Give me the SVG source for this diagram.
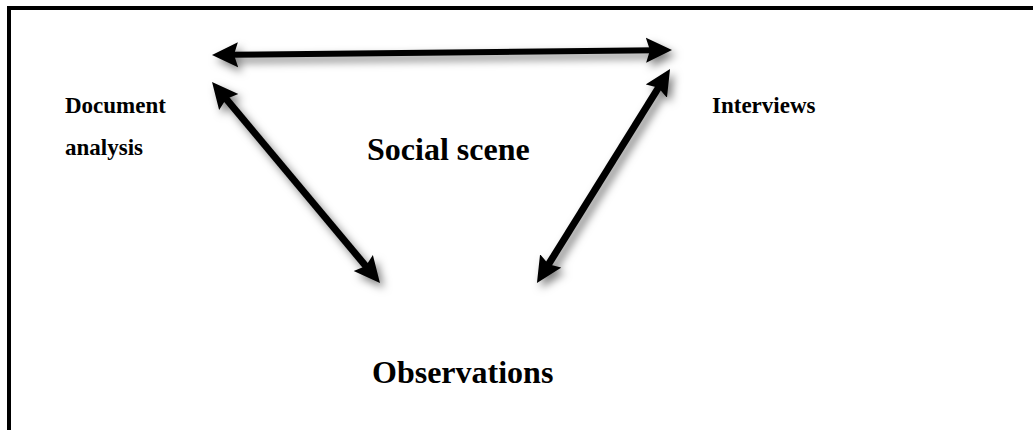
<svg xmlns="http://www.w3.org/2000/svg" width="1033" height="430" viewBox="0 0 1033 430">
  <style>
    .lbl { font-family: "Liberation Serif", "Times New Roman", serif; font-weight: bold; fill: #000; }
    .small { font-size: 23px; }
    .big { font-size: 32px; }
    .conn { stroke: #000; fill: none; stroke-linecap: butt; }
  </style>
  <defs>
    <filter id="shadow" x="-20%" y="-20%" width="140%" height="140%">
      <feDropShadow dx="4" dy="5" stdDeviation="4" flood-color="#000" flood-opacity="0.5"/>
    </filter>
    <marker id="head" markerUnits="userSpaceOnUse" markerWidth="28" markerHeight="26" refX="10" refY="12.5" orient="auto-start-reverse" viewBox="0 0 28 25">
      <path d="M0,0 L26,12.5 L0,25 L4,12.5 Z" fill="#000"/>
    </marker>
  </defs>
  <rect width="1033" height="430" fill="#fff"/>
  <rect id="frame" x="9" y="8" width="1040" height="440" fill="none" stroke="#000" stroke-width="4"/>
  <g id="connectors" filter="url(#shadow)">
    <line class="conn" x1="228" y1="54.8" x2="656" y2="50.2" stroke-width="6" marker-start="url(#head)" marker-end="url(#head)"/>
    <line class="conn" x1="222.3" y1="94.3" x2="369.7" y2="270.7" stroke-width="7" marker-start="url(#head)" marker-end="url(#head)"/>
    <line class="conn" x1="661.6" y1="82.6" x2="545.4" y2="269.4" stroke-width="7" marker-start="url(#head)" marker-end="url(#head)"/>
  </g>
  <g id="document-analysis">
    <text class="lbl small" x="65" y="113">Document</text>
    <text class="lbl small" x="65" y="155">analysis</text>
  </g>
  <g id="interviews">
    <text class="lbl small" x="712" y="113">Interviews</text>
  </g>
  <g id="social-scene">
    <text class="lbl big" x="367" y="160">Social scene</text>
  </g>
  <g id="observations">
    <text class="lbl big" x="372" y="383">Observations</text>
  </g>
</svg>
